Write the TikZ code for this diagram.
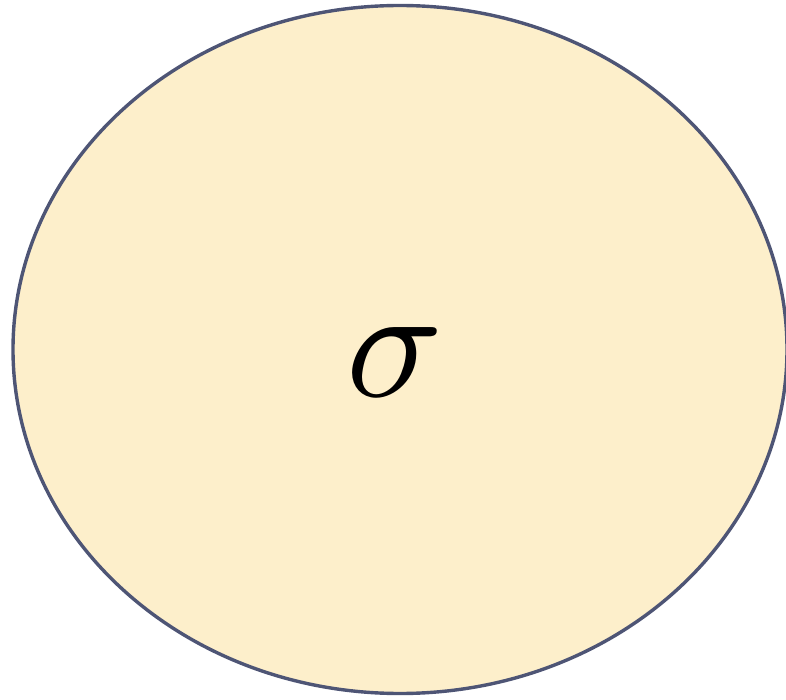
\documentclass[tikz,border=0pt]{standalone}
\usetikzlibrary{shapes.geometric}
\definecolor{ellfill}{HTML}{FDEFCB}
\definecolor{ellline}{HTML}{4E5575}
\tikzset{ellbox/.style={draw=ellline, fill=ellfill, line width=3.4pt, ellipse, inner sep=0pt, minimum width=774pt, minimum height=688pt}}
\begin{document}
\begin{tikzpicture}[x=1pt,y=1pt]
\useasboundingbox (0,0) rectangle (786,699);
\node[ellbox] (e) at (400,349.5) {};
\node[scale=16, inner sep=0pt] (s) at (395,337) {$\sigma$};
\end{tikzpicture}
\end{document}
